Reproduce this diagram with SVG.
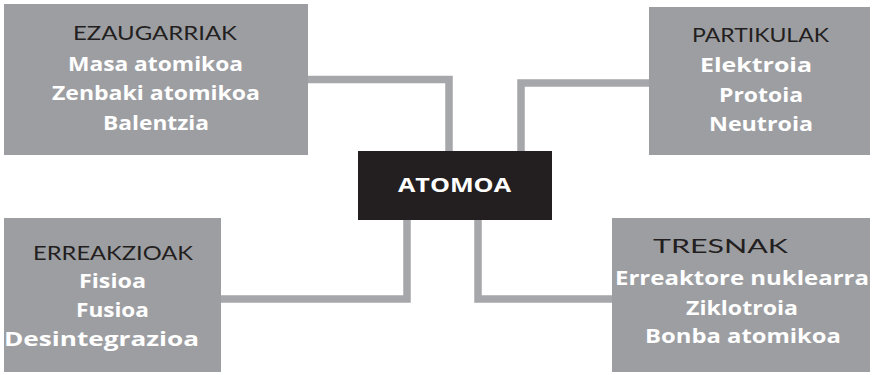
<svg xmlns="http://www.w3.org/2000/svg" width="875" height="375" viewBox="0 0 875 375">
  <style>
    .box { fill: #9d9ea2; }
    .core { fill: #231f20; }
    .link { fill: none; stroke: #a6a7aa; stroke-width: 7.5; stroke-linejoin: miter; }
    text { text-anchor: middle; }
    .head { font-family: Lato, "Liberation Sans", sans-serif; font-size: 19.5px; fill: #231f20; }
    .item { font-family: "Open Sans", "Liberation Sans", sans-serif; font-size: 19.5px; font-weight: bold; fill: #ffffff; }
    .main { font-family: "Open Sans", "Liberation Sans", sans-serif; font-size: 19.5px; font-weight: bold; fill: #ffffff; }
  </style>
  <rect width="875" height="375" fill="#ffffff"/>

  <g id="connectors">
    <polyline class="link" points="308,79.5 449,79.5 449,151"/>
    <polyline class="link" points="649,83 521,83 521,151"/>
    <polyline class="link" points="221,299 407,299 407,220"/>
    <polyline class="link" points="612,299 478,299 478,220"/>
  </g>

  <g id="ezaugarriak">
    <rect class="box" x="4" y="4" width="304" height="151"/>
    <text class="head" x="155" y="40" textLength="164" lengthAdjust="spacingAndGlyphs">EZAUGARRIAK</text>
    <text class="item" x="155.5" y="71" textLength="175" lengthAdjust="spacingAndGlyphs">Masa atomikoa</text>
    <text class="item" x="156" y="100" textLength="208" lengthAdjust="spacingAndGlyphs">Zenbaki atomikoa</text>
    <text class="item" x="156" y="130" textLength="106" lengthAdjust="spacingAndGlyphs">Balentzia</text>
  </g>

  <g id="partikulak">
    <rect class="box" x="649" y="7" width="221" height="148"/>
    <text class="head" x="760.5" y="42" textLength="137" lengthAdjust="spacingAndGlyphs">PARTIKULAK</text>
    <text class="item" x="756" y="72" textLength="112" lengthAdjust="spacingAndGlyphs">Elektroia</text>
    <text class="item" x="761" y="102" textLength="84" lengthAdjust="spacingAndGlyphs">Protoia</text>
    <text class="item" x="761" y="131" textLength="104" lengthAdjust="spacingAndGlyphs">Neutroia</text>
  </g>

  <g id="atomoa">
    <rect class="core" x="358" y="151" width="194" height="69"/>
    <text class="main" x="454.5" y="192" textLength="113" lengthAdjust="spacingAndGlyphs">ATOMOA</text>
  </g>

  <g id="erreakzioak">
    <rect class="box" x="4" y="218" width="217" height="154"/>
    <text class="head" x="113" y="260" textLength="160" lengthAdjust="spacingAndGlyphs">ERREAKZIOAK</text>
    <text class="item" x="112.5" y="288" textLength="67" lengthAdjust="spacingAndGlyphs">Fisioa</text>
    <text class="item" x="112.5" y="317" textLength="73" lengthAdjust="spacingAndGlyphs">Fusioa</text>
    <text class="item" x="101.5" y="346" textLength="195" lengthAdjust="spacingAndGlyphs">Desintegrazioa</text>
  </g>

  <g id="tresnak">
    <rect class="box" x="612" y="218" width="258" height="154"/>
    <text class="head" x="720.5" y="253" textLength="135" lengthAdjust="spacingAndGlyphs">TRESNAK</text>
    <text class="item" x="742" y="285" textLength="254" lengthAdjust="spacingAndGlyphs">Erreaktore nuklearra</text>
    <text class="item" x="742" y="315" textLength="112" lengthAdjust="spacingAndGlyphs">Ziklotroia</text>
    <text class="item" x="743" y="343" textLength="196" lengthAdjust="spacingAndGlyphs">Bonba atomikoa</text>
  </g>
</svg>
